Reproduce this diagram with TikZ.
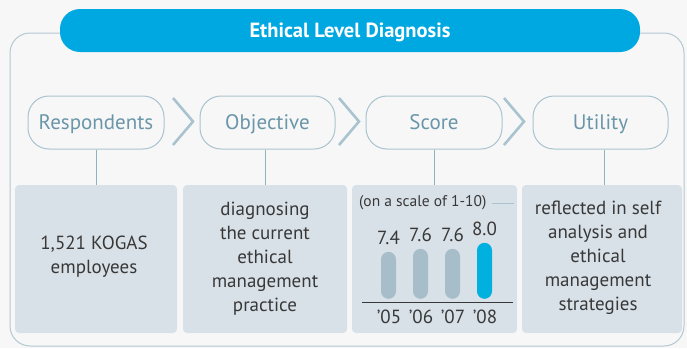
\documentclass[tikz,border=0pt]{standalone}
\usepackage{fontspec}
\setmainfont{PT Sans}
\definecolor{bg}{HTML}{F7F7F7}
\definecolor{frame}{HTML}{B3C8D2}
\definecolor{pillline}{HTML}{A9C3CF}
\definecolor{pilltext}{HTML}{6A96A9}
\definecolor{conn}{HTML}{8DB2C2}
\definecolor{boxfill}{HTML}{D9E1E8}
\definecolor{titleblue}{HTML}{00A8E1}
\definecolor{bodytext}{HTML}{383838}
\definecolor{bargray}{HTML}{A7BECA}
\definecolor{barblue}{HTML}{00B0DE}
\begin{document}
\begin{tikzpicture}[x=1pt,y=-1pt,
  pill/.style={draw=pillline,line width=1pt,fill=bg,rounded corners=21pt,minimum height=53pt,inner sep=0pt,
    text=pilltext,font=\fontsize{21}{24}\selectfont,text height=14.7pt,text depth=0pt},
  infobox/.style={fill=boxfill,rounded corners=4pt,minimum height=148pt,inner sep=0pt},
  bodytxt/.style={text=bodytext,align=center,font=\fontsize{19}{24}\selectfont,inner sep=0pt},
  chev/.style={draw=pillline,line width=2.6pt},
  conline/.style={draw=conn,line width=1pt},
  bar/.style={rounded corners=7.5pt,minimum width=15pt,inner sep=0pt,anchor=south},
  numtxt/.style={text=bodytext,font=\fontsize{19}{20}\selectfont,inner sep=0pt,text height=13.3pt,text depth=0pt}]
\useasboundingbox (0,0) rectangle (687,348);
\fill[bg] (0,0) rectangle (687,348);
% outer frame
\draw[frame,line width=1pt,rounded corners=20pt] (10,33) rectangle (684,346);
% title
\node[fill=titleblue,rounded corners=20pt,minimum width=580pt,minimum height=43pt,inner sep=0pt,
  text=white,font=\bfseries\fontsize{20.5}{24}\selectfont,text height=14.4pt,text depth=0pt] (title) at (350,30.5) {Ethical Level Diagnosis};
% pills
\node[pill,minimum width=136pt] (p1) at (96,122.5) {Respondents};
\node[pill,minimum width=135pt] (p2) at (267.5,122.5) {Objective};
\node[pill,minimum width=136pt] (p3) at (434,122.5) {Score};
\node[pill,minimum width=135pt] (p4) at (600.5,122.5) {Utility};
% chevrons
\draw[chev] (173,98) -- (193,121.5) -- (173,145);
\draw[chev] (339,98) -- (359,121.5) -- (339,145);
\draw[chev] (504,98) -- (524,121.5) -- (504,145);
% boxes
\node[infobox,minimum width=162pt] (b1) at (96,259) {};
\node[infobox,minimum width=164pt] (b2) at (265,259) {};
\node[infobox,minimum width=165pt] (b3) at (434.5,259) {};
\node[infobox,minimum width=160pt] (b4) at (602,259) {};
% connectors
\draw[conline] (p1.south) -- (p1.south |- b1.north);
\draw[conline] (p2.south -| b2.north) -- (b2.north);
\draw[conline] (p3.south) -- (p3.south |- b3.north);
\draw[conline] (p4.south -| 604,0) -- (604,185);
% texts
\node[bodytxt] (t1) at (94,257) {1,521 KOGAS\\employees};
\node[bodytxt] (t2) at (265,259) {diagnosing\\the current\\ethical\\management\\practice};
\node[bodytxt] (t4) at (598,258) {reflected in self\\analysis and\\ethical\\management\\strategies};
% score box
\node[text=bodytext,font=\fontsize{15.5}{18}\selectfont,inner sep=0pt,anchor=west] (scale) at (359,203) {(on a scale of 1-10)};
\coordinate (scaleend) at (514,203);
\draw[conline,draw=pillline] ([xshift=5pt]scale.east) -- (scaleend);
\node[bar,fill=bargray,minimum height=47pt] (bar1) at (388.5,299) {};
\node[bar,fill=bargray,minimum height=50pt] (bar2) at (420.5,299) {};
\node[bar,fill=bargray,minimum height=50pt] (bar3) at (452.5,299) {};
\node[bar,fill=barblue,minimum height=56pt] (bar4) at (484.5,299) {};
\node[numtxt,anchor=south] at ([yshift=7pt]bar1.north) {7.4};
\node[numtxt,anchor=south] at ([yshift=7pt]bar2.north) {7.6};
\node[numtxt,anchor=south] at ([yshift=7pt]bar3.north) {7.6};
\node[numtxt,anchor=south] at ([yshift=7pt]bar4.north) {8.0};
\coordinate (axl) at (362,302);
\coordinate (axr) at (513,302);
\draw[bodytext,line width=1pt] (axl) -- (axr);
\node[numtxt] at (389,317) {'05};
\node[numtxt] at (421,317) {'06};
\node[numtxt] at (453,317) {'07};
\node[numtxt] at (485,317) {'08};
\end{tikzpicture}
\end{document}
